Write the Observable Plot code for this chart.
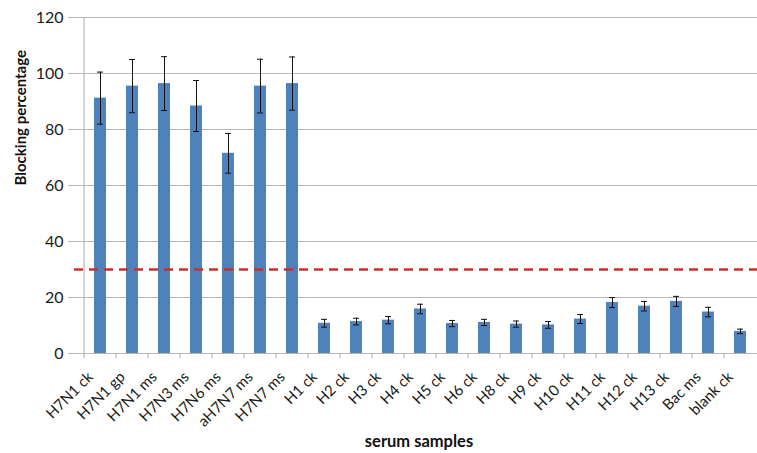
<!DOCTYPE html>
<html>
<head>
<meta charset="utf-8">
<script src="https://cdn.jsdelivr.net/npm/d3@7"></script>
<script src="https://cdn.jsdelivr.net/npm/@observablehq/plot@0.6"></script>
<style>
  html, body { margin: 0; padding: 0; background: #fff; }
  #chart svg { display: block; }
</style>
</head>
<body>
<div id="chart"></div>
<script>
const categories = ["H7N1 ck", "H7N1 gp", "H7N1 ms", "H7N3 ms", "H7N6 ms", "aH7N7 ms", "H7N7 ms",
  "H1 ck", "H2 ck", "H3 ck", "H4 ck", "H5 ck", "H6 ck", "H8 ck", "H9 ck", "H10 ck",
  "H11 ck", "H12 ck", "H13 ck", "Bac ms", "blank ck"];
const values = [91.2, 95.5, 96.4, 88.4, 71.5, 95.5, 96.4,
  10.8, 11.4, 11.9, 15.9, 10.7, 11.1, 10.5, 10.2, 12.3,
  18.2, 16.9, 18.6, 14.8, 7.9];
const errors = [9.3, 9.5, 9.6, 9.1, 7.1, 9.6, 9.5,
  1.4, 1.2, 1.3, 1.7, 1.1, 1.1, 1.1, 1.2, 1.6,
  1.8, 1.7, 1.8, 1.7, 0.8];
const threshold = [30];
const yTicks = [0, 20, 40, 60, 80, 100, 120];
const yTitle = "Blocking percentage";
const xTitle = "serum samples";

const data = categories.map((c, i) => ({cat: c, v: values[i], lo: values[i] - errors[i], hi: values[i] + errors[i]}));

const x0 = 75, x1 = 764;
const step = (x1 - x0) / categories.length;
const gray = "#b8b8b8";
const ink = "#1a1a1a";

const chart = Plot.plot({
  width: 757,
  height: 453,
  marginLeft: 74,
  marginRight: 0,
  marginTop: 17,
  marginBottom: 100,
  style: {fontFamily: "Lato, 'Open Sans', sans-serif", fontSize: "15px", color: ink, background: "#fff"},
  x: {type: "band", domain: categories, range: [x0, x1], paddingInner: 0.634, paddingOuter: 0.317, label: null},
  y: {domain: [0, 120], label: null},
  marks: [
    Plot.ruleY(yTicks, {stroke: gray, strokeWidth: 1.2}),
    Plot.ruleX([categories[0]], {dx: -step / 2, y1: 0, y2: 120, stroke: gray, strokeWidth: 1.2}),
    Plot.ruleX(categories, {dx: -step / 2, y1: 0, y2: -1.9, stroke: gray, strokeWidth: 1.2}),
    Plot.barY(data, {x: "cat", y: "v", fill: "#4f81bd"}),
    Plot.ruleY(threshold, {stroke: "#c8302c", strokeWidth: 2.5, strokeDasharray: "9,6"}),
    Plot.ruleX(data, {x: "cat", y1: "lo", y2: "hi", stroke: "#111", strokeWidth: 1}),
    Plot.tickY(data, {x: "cat", y: "hi", stroke: "#111", strokeWidth: 1, insetLeft: 3, insetRight: 3}),
    Plot.tickY(data, {x: "cat", y: "lo", stroke: "#111", strokeWidth: 1, insetLeft: 3, insetRight: 3}),
    Plot.axisY({ticks: yTicks, tickSize: 6, tickPadding: 5, stroke: gray, fill: ink, fontSize: 16, label: null}),
    Plot.axisX({tickSize: 0, tickPadding: 21, dx: -10, tickRotate: -45, fill: ink, fontSize: 15, label: null}),
    Plot.text([yTitle], {frameAnchor: "left", rotate: -90, dx: -53, fontWeight: "bold", fontSize: 15, fill: "#111"}),
    Plot.text([xTitle], {frameAnchor: "bottom", dx: 3, dy: 93, fontWeight: "bold", fontSize: 16.5, fill: "#111"})
  ]
});
document.getElementById("chart").appendChild(chart);
</script>
</body>
</html>
